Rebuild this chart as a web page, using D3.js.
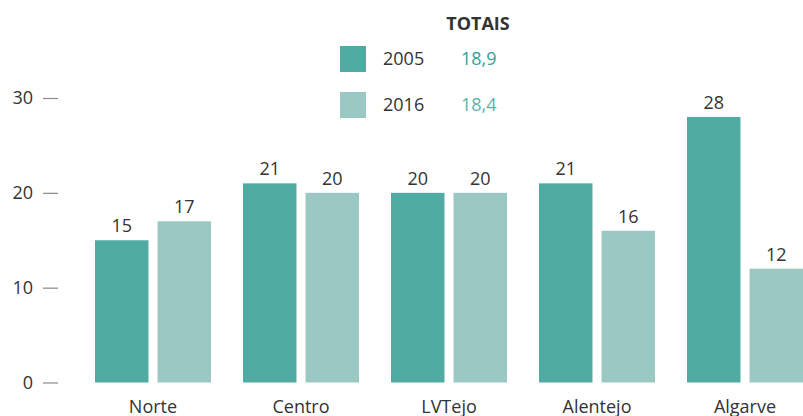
<!DOCTYPE html>
<html>
<head>
<meta charset="utf-8">
<script src="https://cdn.jsdelivr.net/npm/d3@7"></script>
<style>
  body { margin: 0; background: #fff; }
  svg { display: block; font-family: "Open Sans", "Noto Sans", sans-serif; }
</style>
</head>
<body>
<div id="chart"></div>
<script>
const regions = ['Norte', 'Centro', 'LVTejo', 'Alentejo', 'Algarve'];
const years = ['2005', '2016'];
const values2005 = [15, 21, 20, 21, 28];
const values2016 = [17, 20, 20, 16, 12];
const totals = ['18,9', '18,4'];
const yTicks = [0, 10, 20, 30];

const colors = { '2005': '#50aca3', '2016': '#9cc8c4' };
const totalColors = { '2005': '#35a095', '2016': '#5db3aa' };

const W = 803, H = 416;
const svg = d3.select('#chart').append('svg')
    .attr('width', W)
    .attr('height', H);

let y = d3.scaleLinear()
    .domain([0, 30])
    .range([382.5, 98]);

let x0 = d3.scaleBand()
    .domain(regions)
    .range([95, 95 + 5 * 148 - 32])
    .paddingInner(32 / 148);

let x1 = d3.scaleBand()
    .domain(years)
    .range([0, x0.bandwidth()])
    .paddingInner(9 / 62);

// y axis
let yAxis = svg.append('g')
    .attr('transform', 'translate(58,0)')
    .call(d3.axisLeft(y).tickValues(yTicks).tickSize(15).tickPadding(10));
yAxis.select('.domain').remove();
yAxis.selectAll('line').attr('stroke', '#8a8a8a').attr('stroke-width', 1.2);
yAxis.selectAll('text')
    .attr('fill', '#333')
    .style('font-size', '18px')
    .style('font-family', '"Open Sans", sans-serif');

let rows = regions.map((r, i) => ({ region: r, '2005': values2005[i], '2016': values2016[i] }));

let groups = svg.selectAll('.group')
    .data(rows)
    .enter()
    .append('g')
    .attr('class', 'group')
    .attr('transform', d => 'translate(' + x0(d.region) + ',0)');

groups.selectAll('rect')
    .data(d => years.map(k => ({ key: k, value: d[k] })))
    .enter()
    .append('rect')
    .attr('x', d => x1(d.key))
    .attr('y', d => y(d.value))
    .attr('width', x1.bandwidth())
    .attr('height', d => y(0) - y(d.value))
    .attr('fill', d => colors[d.key]);

groups.selectAll('.val')
    .data(d => years.map(k => ({ key: k, value: d[k] })))
    .enter()
    .append('text')
    .attr('class', 'val')
    .attr('x', d => x1(d.key) + x1.bandwidth() / 2)
    .attr('y', d => y(d.value) - 8)
    .attr('text-anchor', 'middle')
    .attr('fill', '#333')
    .style('font-size', '18px')
    .text(d => d.value);

groups.append('text')
    .attr('x', x0.bandwidth() / 2)
    .attr('y', 413)
    .attr('text-anchor', 'middle')
    .attr('fill', '#333')
    .style('font-size', '18px')
    .text(d => d.region);

// legend
svg.append('text')
    .attr('x', 478)
    .attr('y', 30)
    .attr('text-anchor', 'middle')
    .attr('fill', '#333')
    .style('font-size', '18px')
    .style('font-weight', 'bold')
    .text('TOTAIS');

let legend = svg.selectAll('.legend')
    .data(years)
    .enter()
    .append('g')
    .attr('class', 'legend')
    .attr('transform', (d, i) => 'translate(340,' + (46 + i * 46) + ')');

legend.append('rect')
    .attr('width', 26)
    .attr('height', 26)
    .attr('fill', d => colors[d]);

legend.append('text')
    .attr('x', 43)
    .attr('y', 19)
    .attr('fill', '#333')
    .style('font-size', '18px')
    .text(d => d);

legend.append('text')
    .attr('x', 121)
    .attr('y', 19)
    .attr('fill', d => totalColors[d])
    .style('font-size', '18px')
    .text((d, i) => totals[i]);
</script>
</body>
</html>
